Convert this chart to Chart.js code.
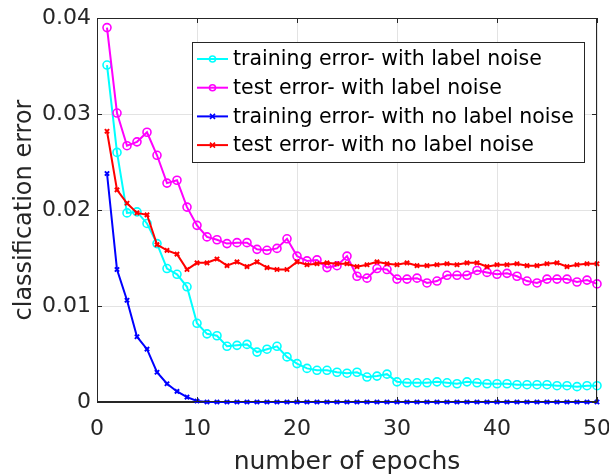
<!DOCTYPE html>
<html>
<head>
<meta charset="utf-8">
<title>classification error vs epochs</title>
<script src="https://cdn.jsdelivr.net/npm/chart.js@4/dist/chart.umd.min.js"></script>
<style>
    html, body { margin: 0; padding: 0; background: #fff; }
    #wrap { width: 609px; height: 475px; }
</style>
</head>
<body>
<div id="wrap"><canvas id="errChart" width="609" height="475"></canvas></div>
<script>
// ─── DATA ───
const epochs = [1, 2, 3, 4, 5, 6, 7, 8, 9, 10,
    11, 12, 13, 14, 15, 16, 17, 18, 19, 20,
    21, 22, 23, 24, 25, 26, 27, 28, 29, 30,
    31, 32, 33, 34, 35, 36, 37, 38, 39, 40,
    41, 42, 43, 44, 45, 46, 47, 48, 49, 50];

const trainNoisy = [0.0351, 0.0260, 0.0197, 0.0198, 0.0186, 0.0165, 0.0139, 0.0133, 0.0120, 0.0082,
    0.0071, 0.0069, 0.0058, 0.0059, 0.0060, 0.0052, 0.0055, 0.0058, 0.0047, 0.0040,
    0.0035, 0.0033, 0.0033, 0.0031, 0.0030, 0.0031, 0.0026, 0.0027, 0.0029, 0.0021,
    0.0020, 0.0020, 0.0020, 0.0021, 0.0020, 0.0019, 0.0021, 0.0020, 0.0019, 0.0019,
    0.0019, 0.0018, 0.0018, 0.0018, 0.0018, 0.0017, 0.0017, 0.0016, 0.0017, 0.0017];

const testNoisy = [0.0390, 0.0301, 0.0267, 0.0271, 0.0281, 0.0257, 0.0228, 0.0231, 0.0203, 0.0184,
    0.0172, 0.0169, 0.0165, 0.0166, 0.0166, 0.0159, 0.0158, 0.0160, 0.0170, 0.0152,
    0.0147, 0.0148, 0.0140, 0.0142, 0.0152, 0.0131, 0.0129, 0.0139, 0.0138, 0.0128,
    0.0128, 0.0129, 0.0124, 0.0126, 0.0132, 0.0132, 0.0132, 0.0137, 0.0135, 0.0133,
    0.0134, 0.0131, 0.0126, 0.0124, 0.0128, 0.0128, 0.0128, 0.0125, 0.0127, 0.0123];

const trainClean = [0.0238, 0.0138, 0.0106, 0.0068, 0.0055, 0.0031, 0.0019, 0.0011, 0.0005, 0.0001,
    0, 0, 0, 0, 0, 0, 0, 0, 0, 0,
    0, 0, 0, 0, 0, 0, 0, 0, 0, 0,
    0, 0, 0, 0, 0, 0, 0, 0, 0, 0,
    0, 0, 0, 0, 0, 0, 0, 0, 0, 0];

const testClean = [0.0282, 0.0221, 0.0207, 0.0197, 0.0195, 0.0164, 0.0158, 0.0154, 0.0138, 0.0145,
    0.0145, 0.0149, 0.0142, 0.0146, 0.0141, 0.0146, 0.0140, 0.0138, 0.0138, 0.0146,
    0.0143, 0.0144, 0.0145, 0.0144, 0.0144, 0.0141, 0.0143, 0.0146, 0.0144, 0.0143,
    0.0145, 0.0142, 0.0142, 0.0143, 0.0144, 0.0143, 0.0145, 0.0145, 0.0141, 0.0143,
    0.0143, 0.0144, 0.0142, 0.0142, 0.0144, 0.0145, 0.0141, 0.0143, 0.0144, 0.0144];

const seriesLabels = [
    "training error- with label noise",
    "test error- with label noise",
    "training error- with no label noise",
    "test error- with no label noise"
];

const xTicks = [0, 10, 20, 30, 40, 50];
const yTicks = [0, 0.01, 0.02, 0.03, 0.04];

// ─── STYLE ───
const FONT = "'DejaVu Sans', sans-serif";
const INK = "#262626";
const GRID = "#e3e3e3";

function toPoints(vals) {
    return vals.map((v, i) => ({ x: epochs[i], y: v }));
}

function makeSeries(label, vals, color, marker, order) {
    const isCircle = marker === "circle";
    return {
        label: label,
        data: toPoints(vals),
        borderColor: color,
        backgroundColor: color,
        borderWidth: 2,
        pointStyle: marker,
        pointRadius: isCircle ? 4 : 3,
        pointBorderWidth: isCircle ? 1.6 : 2,
        pointBackgroundColor: isCircle ? "rgba(0,0,0,0)" : color,
        pointBorderColor: color,
        tension: 0,
        clip: false,
        order: order
    };
}

const datasets = [
    makeSeries(seriesLabels[0], trainNoisy, "#00ffff", "circle", 4),
    makeSeries(seriesLabels[1], testNoisy, "#ff00ff", "circle", 3),
    makeSeries(seriesLabels[2], trainClean, "#0000ff", "crossRot", 2),
    makeSeries(seriesLabels[3], testClean, "#ff0000", "crossRot", 1)
];

// ─── BOX, TICK MARKS & LEGEND ───
const boxLegend = {
    id: "boxLegend",
    afterDatasetsDraw(chart) {
        const { ctx, chartArea: a, scales: { x, y } } = chart;
        ctx.save();

        // axes box
        ctx.strokeStyle = INK;
        ctx.lineWidth = 1;
        ctx.beginPath();
        ctx.rect(a.left + 0.5, a.top + 0.5, a.right - a.left - 1, a.bottom - a.top - 1);
        ctx.stroke();

        // inward tick marks on all four sides
        ctx.beginPath();
        xTicks.forEach(t => {
            const px = Math.round(x.getPixelForValue(t)) + 0.5;
            ctx.moveTo(px, a.bottom); ctx.lineTo(px, a.bottom - 5);
            ctx.moveTo(px, a.top); ctx.lineTo(px, a.top + 5);
        });
        yTicks.forEach(t => {
            const py = Math.round(y.getPixelForValue(t)) + 0.5;
            ctx.moveTo(a.left, py); ctx.lineTo(a.left + 5, py);
            ctx.moveTo(a.right, py); ctx.lineTo(a.right - 5, py);
        });
        ctx.stroke();

        // legend panel
        const lx = 192, ly = 42, lw = 392, lh = 120, rowH = 28.7;
        ctx.fillStyle = "#fff";
        ctx.fillRect(lx, ly, lw, lh);
        ctx.strokeStyle = INK;
        ctx.strokeRect(lx + 0.5, ly + 0.5, lw, lh);

        ctx.font = "20.5px " + FONT;
        ctx.textBaseline = "middle";
        chart.data.datasets.forEach((ds, i) => {
            const cy = ly + 17 + i * rowH;
            ctx.strokeStyle = ds.borderColor;
            ctx.lineWidth = 2;
            ctx.beginPath();
            ctx.moveTo(lx + 5, cy);
            ctx.lineTo(lx + 36, cy);
            ctx.stroke();

            ctx.lineWidth = 1.6;
            ctx.beginPath();
            if (ds.pointStyle === "circle") {
                ctx.arc(lx + 20.5, cy, 3, 0, Math.PI * 2);
            } else {
                ctx.moveTo(lx + 18, cy - 2.5); ctx.lineTo(lx + 23, cy + 2.5);
                ctx.moveTo(lx + 18, cy + 2.5); ctx.lineTo(lx + 23, cy - 2.5);
            }
            ctx.stroke();

            ctx.fillStyle = "#000";
            ctx.fillText(ds.label, lx + 41, cy + 1);
        });
        ctx.restore();
    }
};

// ─── CHART ───
new Chart(document.getElementById("errChart").getContext("2d"), {
    type: "line",
    data: { datasets: datasets },
    options: {
        responsive: false,
        animation: false,
        layout: { padding: { top: 18, right: 12, bottom: 0, left: 0 } },
        plugins: {
            legend: { display: false },
            tooltip: { enabled: false }
        },
        scales: {
            x: {
                type: "linear",
                min: 0,
                max: 50,
                afterFit: s => { s.height = 73; s.paddingLeft = 0; s.paddingRight = 0; },
                afterBuildTicks: s => { s.ticks = xTicks.map(v => ({ value: v })); },
                grid: { color: GRID, drawTicks: false },
                border: { color: INK },
                ticks: {
                    padding: 14,
                    color: INK,
                    maxRotation: 0,
                    font: { family: FONT, size: 22 }
                },
                title: {
                    display: true,
                    text: "number of epochs",
                    color: INK,
                    padding: { top: 0, bottom: 0 },
                    font: { family: FONT, size: 25, lineHeight: 1 }
                }
            },
            y: {
                min: 0,
                max: 0.04,
                afterFit: s => { s.width = 97; s.paddingTop = 0; s.paddingBottom = 0; },
                afterBuildTicks: s => { s.ticks = yTicks.map(v => ({ value: v })); },
                grid: { color: GRID, drawTicks: false },
                border: { color: INK },
                ticks: {
                    padding: 6,
                    color: INK,
                    font: { family: FONT, size: 22 },
                    callback: v => v === 0 ? "0" : v.toFixed(2)
                },
                title: {
                    display: true,
                    text: "classification error",
                    color: INK,
                    padding: { top: 10, bottom: 0 },
                    font: { family: FONT, size: 24 }
                }
            }
        }
    },
    plugins: [boxLegend]
});
</script>
</body>
</html>
